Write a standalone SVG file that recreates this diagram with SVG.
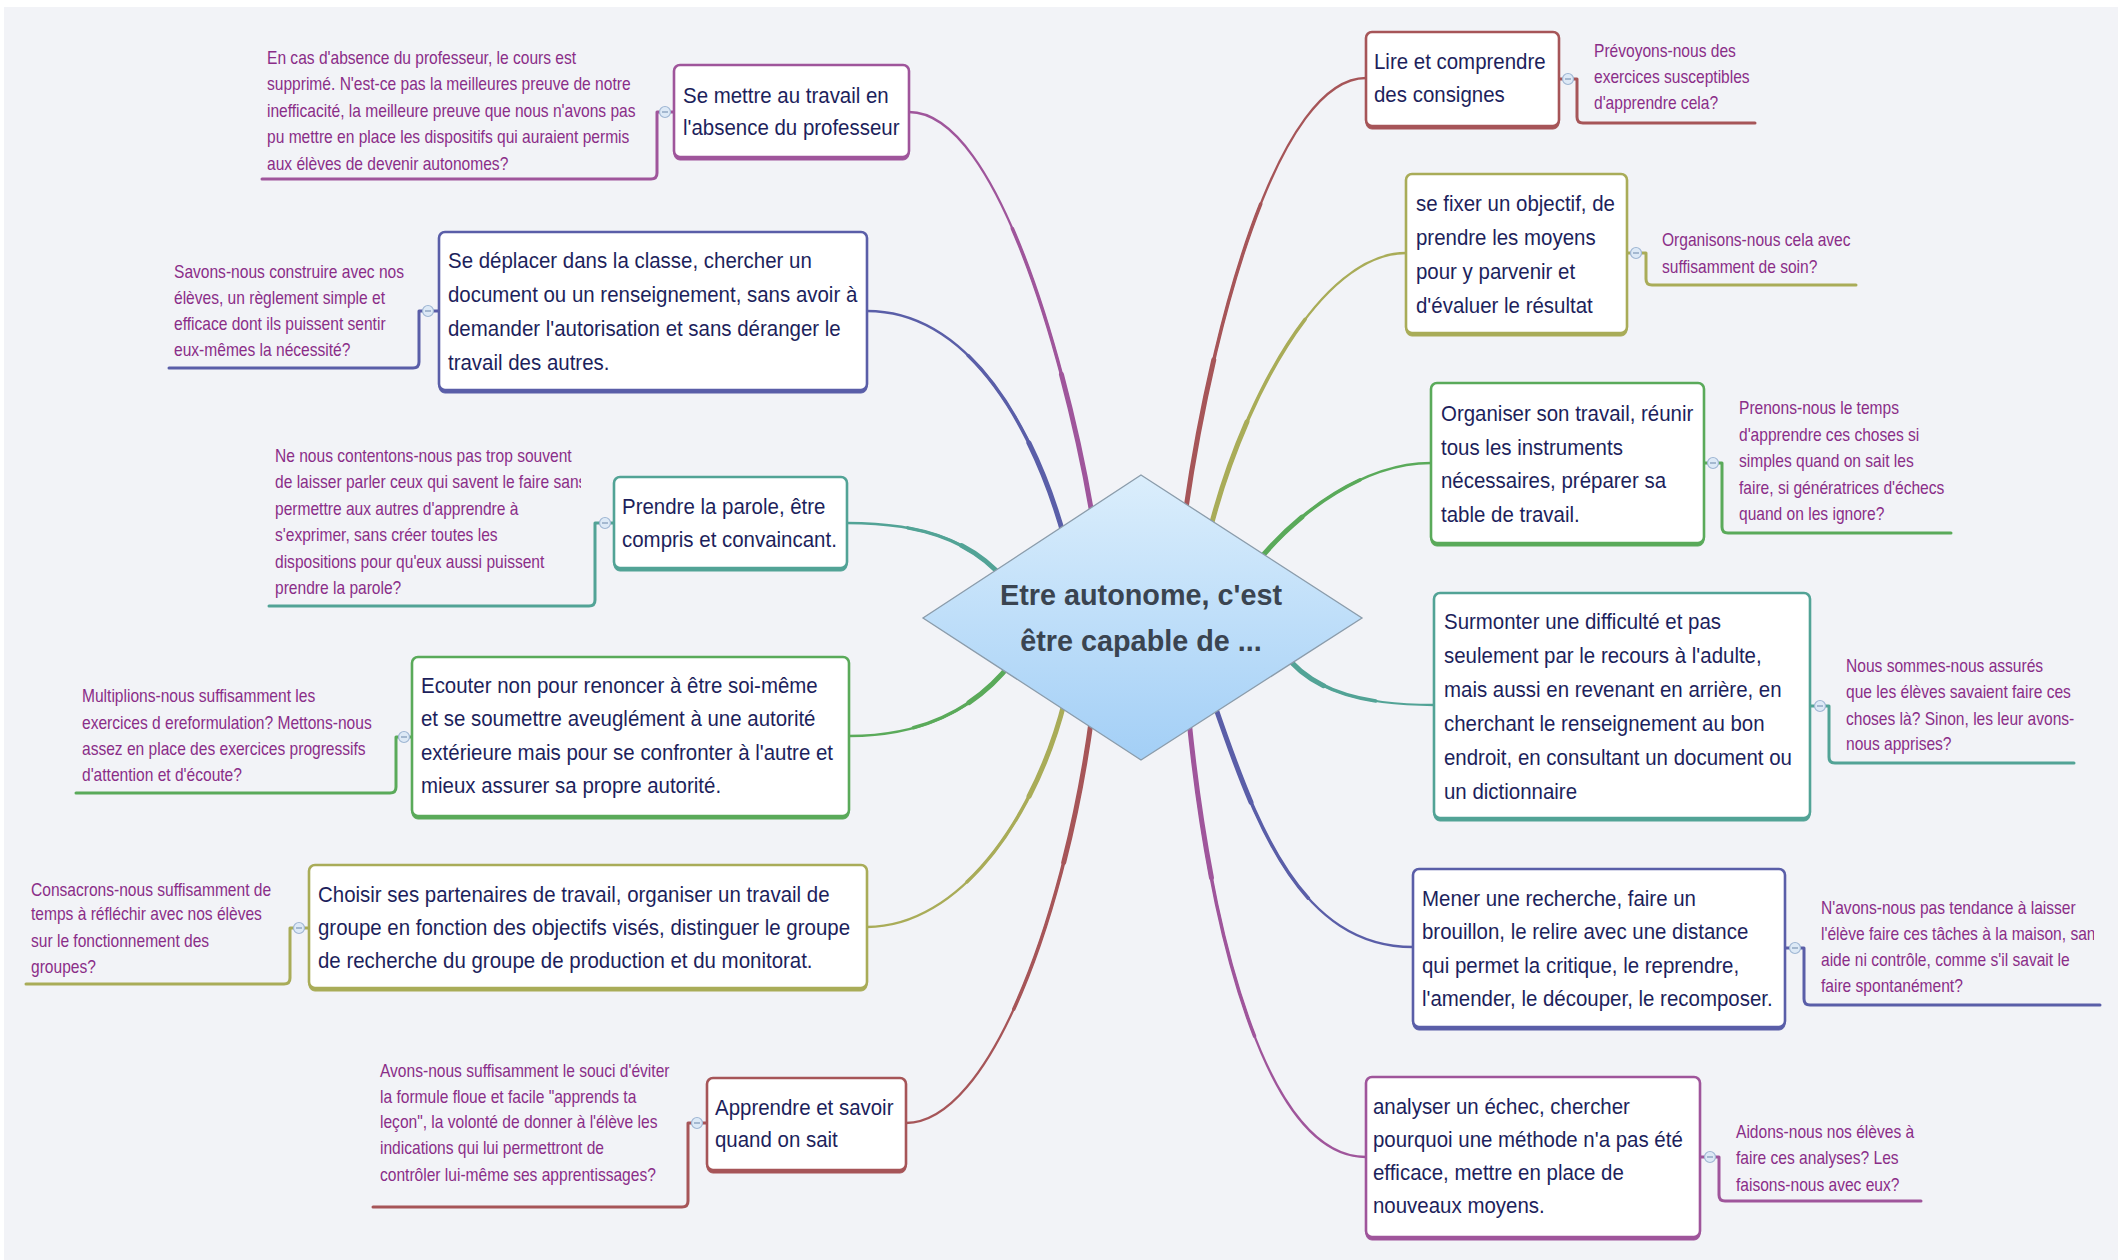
<svg xmlns="http://www.w3.org/2000/svg" width="2118" height="1260" viewBox="0 0 2118 1260">
<defs>
<style>
.bg{fill:#f2f3f7}
.nt{font-family:"Liberation Sans",Arial,sans-serif;font-size:22px;fill:#1d1f5c}
.at{font-family:"Liberation Sans",Arial,sans-serif;font-size:17.5px;fill:#8a2d88}
.ct{font-family:"Liberation Sans",Arial,sans-serif;font-size:30px;font-weight:bold;fill:#3a4450}
.cv{fill:none;stroke-width:2.3;stroke-linecap:round}
.cv2{fill:none;stroke-width:3.5;stroke-linecap:round;stroke-dasharray:65 35;stroke-dashoffset:65}
.cv3{fill:none;stroke-width:5;stroke-linecap:round;stroke-dasharray:32 68;stroke-dashoffset:32}
.br{fill:none;stroke-width:3;stroke-linecap:round;stroke-linejoin:round}
.box{fill:#ffffff;stroke-width:2.6}
.sh{stroke:none}
.btn{fill:#dde9f6;stroke:#9fb6d3;stroke-width:1.2}
.btm{stroke:#7f98b8;stroke-width:1.2}
.pu{stroke:#9f559b}.pu.sh{fill:#9f559b}
.bl{stroke:#5a5ea8}.bl.sh{fill:#5a5ea8}
.te{stroke:#52a396}.te.sh{fill:#52a396}
.gr{stroke:#5aaa5a}.gr.sh{fill:#5aaa5a}
.ol{stroke:#a9ac58}.ol.sh{fill:#a9ac58}
.brn{stroke:#a65558}.brn.sh{fill:#a65558}
</style>
<linearGradient id="dg" x1="0" y1="0" x2="0" y2="1">
<stop offset="0" stop-color="#dbeefc"/>
<stop offset="1" stop-color="#a3cff6"/>
</linearGradient>
<clipPath id="c3"><rect x="0" y="440" width="581" height="170"/></clipPath>
<clipPath id="c6"><rect x="0" y="1050" width="675" height="150"/></clipPath>
<clipPath id="c11"><rect x="1790" y="890" width="304" height="120"/></clipPath>
</defs>
<rect x="0" y="0" width="2118" height="1260" fill="#ffffff"/>
<rect class="bg" x="4" y="7" width="2114" height="1253"/>

<g id="connectors">
<path class="cv pu" d="M909,112 C1000,112 1070,380 1093,520"/>
<path class="cv2 pu" pathLength="100" d="M909,112 C1000,112 1070,380 1093,520"/>
<path class="cv3 pu" pathLength="100" d="M909,112 C1000,112 1070,380 1093,520"/>
<path class="cv bl" d="M867,311 C970,311 1035,430 1065,540"/>
<path class="cv2 bl" pathLength="100" d="M867,311 C970,311 1035,430 1065,540"/>
<path class="cv3 bl" pathLength="100" d="M867,311 C970,311 1035,430 1065,540"/>
<path class="cv te" d="M847,523 C930,523 975,545 1005,580"/>
<path class="cv2 te" pathLength="100" d="M847,523 C930,523 975,545 1005,580"/>
<path class="cv3 te" pathLength="100" d="M847,523 C930,523 975,545 1005,580"/>
<path class="cv gr" d="M849,736 C920,736 975,710 1012,662"/>
<path class="cv2 gr" pathLength="100" d="M849,736 C920,736 975,710 1012,662"/>
<path class="cv3 gr" pathLength="100" d="M849,736 C920,736 975,710 1012,662"/>
<path class="cv ol" d="M867,927 C960,927 1036,816 1065,700"/>
<path class="cv2 ol" pathLength="100" d="M867,927 C960,927 1036,816 1065,700"/>
<path class="cv3 ol" pathLength="100" d="M867,927 C960,927 1036,816 1065,700"/>
<path class="cv brn" d="M906,1123 C990,1123 1066,913 1092,715"/>
<path class="cv2 brn" pathLength="100" d="M906,1123 C990,1123 1066,913 1092,715"/>
<path class="cv3 brn" pathLength="100" d="M906,1123 C990,1123 1066,913 1092,715"/>
<path class="cv brn" d="M1366,78 C1280,78 1213,317 1185,515"/>
<path class="cv2 brn" pathLength="100" d="M1366,78 C1280,78 1213,317 1185,515"/>
<path class="cv3 brn" pathLength="100" d="M1366,78 C1280,78 1213,317 1185,515"/>
<path class="cv ol" d="M1406,253 C1320,253 1242,404 1210,530"/>
<path class="cv2 ol" pathLength="100" d="M1406,253 C1320,253 1242,404 1210,530"/>
<path class="cv3 ol" pathLength="100" d="M1406,253 C1320,253 1242,404 1210,530"/>
<path class="cv gr" d="M1431,463 C1360,463 1292,518 1255,565"/>
<path class="cv2 gr" pathLength="100" d="M1431,463 C1360,463 1292,518 1255,565"/>
<path class="cv3 gr" pathLength="100" d="M1431,463 C1360,463 1292,518 1255,565"/>
<path class="cv te" d="M1434,705 C1360,705 1310,690 1283,652"/>
<path class="cv2 te" pathLength="100" d="M1434,705 C1360,705 1310,690 1283,652"/>
<path class="cv3 te" pathLength="100" d="M1434,705 C1360,705 1310,690 1283,652"/>
<path class="cv bl" d="M1413,947 C1300,947 1255,823 1213,700"/>
<path class="cv2 bl" pathLength="100" d="M1413,947 C1300,947 1255,823 1213,700"/>
<path class="cv3 bl" pathLength="100" d="M1413,947 C1300,947 1255,823 1213,700"/>
<path class="cv pu" d="M1366,1157 C1270,1157 1212,949 1189,720"/>
<path class="cv2 pu" pathLength="100" d="M1366,1157 C1270,1157 1212,949 1189,720"/>
<path class="cv3 pu" pathLength="100" d="M1366,1157 C1270,1157 1212,949 1189,720"/>
<path class="br pu" d="M674,112 H657 V173 Q657,179 651,179 H262"/>
<path class="br bl" d="M439,311 H419 V362 Q419,368 413,368 H169"/>
<path class="br te" d="M614,523 H595 V600 Q595,606 589,606 H269"/>
<path class="br gr" d="M412,737 H396 V787 Q396,793 390,793 H76"/>
<path class="br ol" d="M309,928 H290 V978 Q290,984 284,984 H26"/>
<path class="br brn" d="M707,1123 H688 V1201 Q688,1207 682,1207 H373"/>
<path class="br brn" d="M1559,79 H1577 V117 Q1577,123 1583,123 H1755"/>
<path class="br ol" d="M1627,253 H1646 V279 Q1646,285 1652,285 H1856"/>
<path class="br gr" d="M1704,463 H1722 V527 Q1722,533 1728,533 H1951"/>
<path class="br te" d="M1810,706 H1829 V757 Q1829,763 1835,763 H2074"/>
<path class="br bl" d="M1785,948 H1804 V999 Q1804,1005 1810,1005 H2100"/>
<path class="br pu" d="M1700,1157 H1719 V1195 Q1719,1201 1725,1201 H1921"/>
</g>

<g id="center">
<polygon points="1141,475 1362,618 1141,760 923,618" fill="url(#dg)" stroke="#8b9cab" stroke-width="1.3"/>
<g transform="translate(1141,0) scale(0.96,1)">
<text class="ct" x="0" y="605" text-anchor="middle">Etre autonome, c'est</text>
<text class="ct" x="0" y="651" text-anchor="middle">être capable de ...</text>
</g>
</g>

<g id="n1">
<rect class="pu sh" x="674" y="68" width="235" height="92" rx="6"/>
<rect class="box pu" x="674" y="65" width="235" height="92" rx="6"/>
<g transform="translate(683,0) scale(0.93,1)">
<text class="nt" x="0" y="103">Se mettre au travail en</text>
<text class="nt" x="0" y="135">l'absence du professeur</text>
</g>
<circle class="btn" cx="665" cy="112" r="5.5"/><line class="btm" x1="662" y1="112" x2="668" y2="112"/>
</g>
<g id="n1-note" transform="translate(267,0) scale(0.89,1)">
<text class="at" x="0" y="64">En cas d'absence du professeur, le cours est</text>
<text class="at" x="0" y="90.5">supprimé. N'est-ce pas la meilleures preuve de notre</text>
<text class="at" x="0" y="117">inefficacité, la meilleure preuve que nous n'avons pas</text>
<text class="at" x="0" y="143.5">pu mettre en place les dispositifs qui auraient permis</text>
<text class="at" x="0" y="170">aux élèves de devenir autonomes?</text>
</g>

<g id="n2">
<rect class="bl sh" x="439" y="235" width="428" height="158" rx="6"/>
<rect class="box bl" x="439" y="232" width="428" height="158" rx="6"/>
<g transform="translate(448,0) scale(0.93,1)">
<text class="nt" x="0" y="268">Se déplacer dans la classe, chercher un</text>
<text class="nt" x="0" y="302">document ou un renseignement, sans avoir à</text>
<text class="nt" x="0" y="336">demander l'autorisation et sans déranger le</text>
<text class="nt" x="0" y="370">travail des autres.</text>
</g>
<circle class="btn" cx="428" cy="311" r="5.5"/><line class="btm" x1="425" y1="311" x2="431" y2="311"/>
</g>
<g id="n2-note" transform="translate(174,0) scale(0.89,1)">
<text class="at" x="0" y="278">Savons-nous construire avec nos</text>
<text class="at" x="0" y="304">élèves, un règlement simple et</text>
<text class="at" x="0" y="330">efficace dont ils puissent sentir</text>
<text class="at" x="0" y="356">eux-mêmes la nécessité?</text>
</g>

<g id="n3">
<rect class="te sh" x="614" y="480" width="233" height="91" rx="6"/>
<rect class="box te" x="614" y="477" width="233" height="91" rx="6"/>
<g transform="translate(622,0) scale(0.93,1)">
<text class="nt" x="0" y="514">Prendre la parole, être</text>
<text class="nt" x="0" y="547">compris et convaincant.</text>
</g>
<circle class="btn" cx="605" cy="523" r="5.5"/><line class="btm" x1="602" y1="523" x2="608" y2="523"/>
</g>
<g id="n3-note" clip-path="url(#c3)">
<g transform="translate(275,0) scale(0.89,1)">
<text class="at" x="0" y="462">Ne nous contentons-nous pas trop souvent</text>
<text class="at" x="0" y="488.5">de laisser parler ceux qui savent le faire sans</text>
<text class="at" x="0" y="515">permettre aux autres d'apprendre à</text>
<text class="at" x="0" y="541.5">s'exprimer, sans créer toutes les</text>
<text class="at" x="0" y="568">dispositions pour qu'eux aussi puissent</text>
<text class="at" x="0" y="594.5">prendre la parole?</text>
</g>
</g>

<g id="n4">
<rect class="gr sh" x="412" y="660" width="437" height="159" rx="6"/>
<rect class="box gr" x="412" y="657" width="437" height="159" rx="6"/>
<g transform="translate(421,0) scale(0.93,1)">
<text class="nt" x="0" y="693">Ecouter non pour renoncer à être soi-même</text>
<text class="nt" x="0" y="726">et se soumettre aveuglément à une autorité</text>
<text class="nt" x="0" y="760">extérieure mais pour se confronter à l'autre et</text>
<text class="nt" x="0" y="793">mieux assurer sa propre autorité.</text>
</g>
<circle class="btn" cx="404" cy="737" r="5.5"/><line class="btm" x1="401" y1="737" x2="407" y2="737"/>
</g>
<g id="n4-note" transform="translate(82,0) scale(0.89,1)">
<text class="at" x="0" y="702">Multiplions-nous suffisamment les</text>
<text class="at" x="0" y="729">exercices d ereformulation? Mettons-nous</text>
<text class="at" x="0" y="755">assez en place des exercices progressifs</text>
<text class="at" x="0" y="781">d'attention et d'écoute?</text>
</g>

<g id="n5">
<rect class="ol sh" x="309" y="868" width="558" height="123" rx="6"/>
<rect class="box ol" x="309" y="865" width="558" height="123" rx="6"/>
<g transform="translate(318,0) scale(0.93,1)">
<text class="nt" x="0" y="902">Choisir ses partenaires de travail, organiser un travail de</text>
<text class="nt" x="0" y="935">groupe en fonction des objectifs visés, distinguer le groupe</text>
<text class="nt" x="0" y="968">de recherche du groupe de production et du monitorat.</text>
</g>
<circle class="btn" cx="299" cy="928" r="5.5"/><line class="btm" x1="296" y1="928" x2="302" y2="928"/>
</g>
<g id="n5-note" transform="translate(31,0) scale(0.89,1)">
<text class="at" x="0" y="896">Consacrons-nous suffisamment de</text>
<text class="at" x="0" y="920">temps à réfléchir avec nos élèves</text>
<text class="at" x="0" y="947">sur le fonctionnement des</text>
<text class="at" x="0" y="973">groupes?</text>
</g>

<g id="n6">
<rect class="brn sh" x="707" y="1081" width="199" height="92" rx="6"/>
<rect class="box brn" x="707" y="1078" width="199" height="92" rx="6"/>
<g transform="translate(715,0) scale(0.93,1)">
<text class="nt" x="0" y="1115">Apprendre et savoir</text>
<text class="nt" x="0" y="1147">quand on sait</text>
</g>
<circle class="btn" cx="697" cy="1123" r="5.5"/><line class="btm" x1="694" y1="1123" x2="700" y2="1123"/>
</g>
<g id="n6-note" clip-path="url(#c6)">
<g transform="translate(380,0) scale(0.89,1)">
<text class="at" x="0" y="1077">Avons-nous suffisamment le souci d'éviter</text>
<text class="at" x="0" y="1103">la formule floue et facile "apprends ta</text>
<text class="at" x="0" y="1128">leçon", la volonté de donner à l'élève les</text>
<text class="at" x="0" y="1154">indications qui lui permettront de</text>
<text class="at" x="0" y="1181">contrôler lui-même ses apprentissages?</text>
</g>
</g>

<g id="n7">
<rect class="brn sh" x="1366" y="35" width="193" height="94" rx="6"/>
<rect class="box brn" x="1366" y="32" width="193" height="94" rx="6"/>
<g transform="translate(1374,0) scale(0.93,1)">
<text class="nt" x="0" y="69">Lire et comprendre</text>
<text class="nt" x="0" y="102">des consignes</text>
</g>
<circle class="btn" cx="1568" cy="79" r="5.5"/><line class="btm" x1="1565" y1="79" x2="1571" y2="79"/>
</g>
<g id="n7-note" transform="translate(1594,0) scale(0.89,1)">
<text class="at" x="0" y="57">Prévoyons-nous des</text>
<text class="at" x="0" y="83">exercices susceptibles</text>
<text class="at" x="0" y="109">d'apprendre cela?</text>
</g>

<g id="n8">
<rect class="ol sh" x="1406" y="177" width="221" height="159" rx="6"/>
<rect class="box ol" x="1406" y="174" width="221" height="159" rx="6"/>
<g transform="translate(1416,0) scale(0.93,1)">
<text class="nt" x="0" y="211">se fixer un objectif, de</text>
<text class="nt" x="0" y="245">prendre les moyens</text>
<text class="nt" x="0" y="279">pour y parvenir et</text>
<text class="nt" x="0" y="313">d'évaluer le résultat</text>
</g>
<circle class="btn" cx="1636" cy="253" r="5.5"/><line class="btm" x1="1633" y1="253" x2="1639" y2="253"/>
</g>
<g id="n8-note" transform="translate(1662,0) scale(0.89,1)">
<text class="at" x="0" y="246">Organisons-nous cela avec</text>
<text class="at" x="0" y="273">suffisamment de soin?</text>
</g>

<g id="n9">
<rect class="gr sh" x="1431" y="386" width="273" height="160" rx="6"/>
<rect class="box gr" x="1431" y="383" width="273" height="160" rx="6"/>
<g transform="translate(1441,0) scale(0.93,1)">
<text class="nt" x="0" y="421">Organiser son travail, réunir</text>
<text class="nt" x="0" y="455">tous les instruments</text>
<text class="nt" x="0" y="488">nécessaires, préparer sa</text>
<text class="nt" x="0" y="522">table de travail.</text>
</g>
<circle class="btn" cx="1713" cy="463" r="5.5"/><line class="btm" x1="1710" y1="463" x2="1716" y2="463"/>
</g>
<g id="n9-note" transform="translate(1739,0) scale(0.89,1)">
<text class="at" x="0" y="414">Prenons-nous le temps</text>
<text class="at" x="0" y="441">d'apprendre ces choses si</text>
<text class="at" x="0" y="467">simples quand on sait les</text>
<text class="at" x="0" y="494">faire, si génératrices d'échecs</text>
<text class="at" x="0" y="520">quand on les ignore?</text>
</g>

<g id="n10">
<rect class="te sh" x="1434" y="596" width="376" height="225" rx="6"/>
<rect class="box te" x="1434" y="593" width="376" height="225" rx="6"/>
<g transform="translate(1444,0) scale(0.93,1)">
<text class="nt" x="0" y="629">Surmonter une difficulté et pas</text>
<text class="nt" x="0" y="663">seulement par le recours à l'adulte,</text>
<text class="nt" x="0" y="697">mais aussi en revenant en arrière, en</text>
<text class="nt" x="0" y="731">cherchant le renseignement au bon</text>
<text class="nt" x="0" y="765">endroit, en consultant un document ou</text>
<text class="nt" x="0" y="799">un dictionnaire</text>
</g>
<circle class="btn" cx="1820" cy="706" r="5.5"/><line class="btm" x1="1817" y1="706" x2="1823" y2="706"/>
</g>
<g id="n10-note" transform="translate(1846,0) scale(0.89,1)">
<text class="at" x="0" y="672">Nous sommes-nous assurés</text>
<text class="at" x="0" y="698">que les élèves savaient faire ces</text>
<text class="at" x="0" y="725">choses là? Sinon, les leur avons-</text>
<text class="at" x="0" y="750">nous apprises?</text>
</g>

<g id="n11">
<rect class="bl sh" x="1413" y="872" width="372" height="158" rx="6"/>
<rect class="box bl" x="1413" y="869" width="372" height="158" rx="6"/>
<g transform="translate(1422,0) scale(0.93,1)">
<text class="nt" x="0" y="906">Mener une recherche, faire un</text>
<text class="nt" x="0" y="939">brouillon, le relire avec une distance</text>
<text class="nt" x="0" y="973">qui permet la critique, le reprendre,</text>
<text class="nt" x="0" y="1006">l'amender, le découper, le recomposer.</text>
</g>
<circle class="btn" cx="1795" cy="948" r="5.5"/><line class="btm" x1="1792" y1="948" x2="1798" y2="948"/>
</g>
<g id="n11-note" clip-path="url(#c11)">
<g transform="translate(1821,0) scale(0.89,1)">
<text class="at" x="0" y="914">N'avons-nous pas tendance à laisser</text>
<text class="at" x="0" y="940">l'élève faire ces tâches à la maison, sans</text>
<text class="at" x="0" y="966">aide ni contrôle, comme s'il savait le</text>
<text class="at" x="0" y="992">faire spontanément?</text>
</g>
</g>

<g id="n12">
<rect class="pu sh" x="1366" y="1080" width="334" height="160" rx="6"/>
<rect class="box pu" x="1366" y="1077" width="334" height="160" rx="6"/>
<g transform="translate(1373,0) scale(0.93,1)">
<text class="nt" x="0" y="1114">analyser un échec, chercher</text>
<text class="nt" x="0" y="1147">pourquoi une méthode n'a pas été</text>
<text class="nt" x="0" y="1180">efficace, mettre en place de</text>
<text class="nt" x="0" y="1213">nouveaux moyens.</text>
</g>
<circle class="btn" cx="1710" cy="1157" r="5.5"/><line class="btm" x1="1707" y1="1157" x2="1713" y2="1157"/>
</g>
<g id="n12-note" transform="translate(1736,0) scale(0.89,1)">
<text class="at" x="0" y="1138">Aidons-nous nos élèves à</text>
<text class="at" x="0" y="1164">faire ces analyses? Les</text>
<text class="at" x="0" y="1191">faisons-nous avec eux?</text>
</g>
</svg>
